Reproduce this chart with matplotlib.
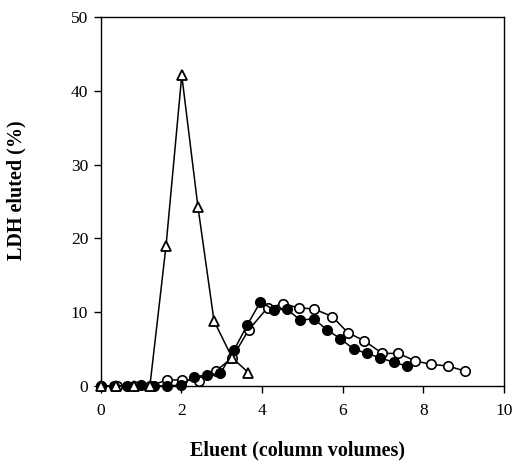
#!/usr/bin/env python3

import matplotlib
matplotlib.use("Agg")
import matplotlib.pyplot as plt

plt.rcParams['font.family'] = ['Liberation Serif', 'DejaVu Serif']

# triangles (open)
tri_x = [0.0, 0.37, 0.82, 1.22, 1.62, 2.01, 2.41, 2.81, 3.26, 3.66]
tri_y = [0.0, 0.0, 0.0, 0.0, 19.0, 42.1, 24.3, 8.8, 3.8, 1.8]

# filled circles
fill_x = [0.0, 0.33, 0.66, 0.99, 1.32, 1.65, 1.98, 2.31, 2.64, 2.97, 3.30, 3.63,
          3.96, 4.29, 4.62, 4.95, 5.28, 5.61, 5.94, 6.27, 6.60, 6.93, 7.26, 7.59]
fill_y = [0.0, 0.0, 0.0, 0.1, 0.0, 0.0, 0.1, 1.2, 1.5, 1.7, 4.8, 8.2,
          11.4, 10.3, 10.4, 8.9, 9.1, 7.6, 6.4, 5.0, 4.4, 3.8, 3.2, 2.7]

# open circles
open_x = [0.0, 0.41, 0.82, 1.23, 1.64, 2.02, 2.43, 2.85, 3.26, 3.67, 4.14, 4.52,
          4.91, 5.30, 5.74, 6.13, 6.54, 6.98, 7.38, 7.79, 8.20, 8.61, 9.03]
open_y = [0.0, 0.0, 0.0, 0.0, 0.8, 0.8, 0.7, 2.0, 3.8, 7.6, 10.6, 11.1,
          10.6, 10.4, 9.4, 7.2, 6.1, 4.4, 4.4, 3.4, 2.9, 2.7, 2.0]

fig = plt.figure(figsize=(5.13, 4.61), dpi=100)
ax = fig.add_axes([0.1963, 0.163, 0.7862, 0.8001])

ax.plot(open_x, open_y, '-o', color='k', mfc='white', mec='k',
        ms=6.8, mew=1.2, lw=1.1, clip_on=False, zorder=3)
ax.plot(fill_x, fill_y, '-o', color='k', mfc='k', mec='k',
        ms=6.8, mew=1.2, lw=1.1, clip_on=False, zorder=4)
ax.plot(tri_x, tri_y, '-^', color='k', mfc='white', mec='k',
        ms=7.5, mew=1.3, lw=1.1, clip_on=False, zorder=5)

ax.set_xlim(0, 10)
ax.set_ylim(0, 50)
ax.set_xticks([0, 2, 4, 6, 8, 10])
ax.set_yticks([0, 10, 20, 30, 40, 50])
ax.tick_params(direction='out', length=5, width=1, labelsize=12.5, pad=4)
ax.tick_params(axis='x', pad=7)
for s in ax.spines.values():
    s.set_linewidth(1.0)

ax.set_xlabel('Eluent (column volumes)', fontsize=14.5, fontweight='bold')
ax.set_ylabel('LDH eluted (%)', fontsize=14.5, fontweight='bold')
ax.xaxis.set_label_coords(0.488, -0.149)
ax.yaxis.set_label_coords(-0.185, 0.531)

fig.savefig("out.png", dpi=100)
